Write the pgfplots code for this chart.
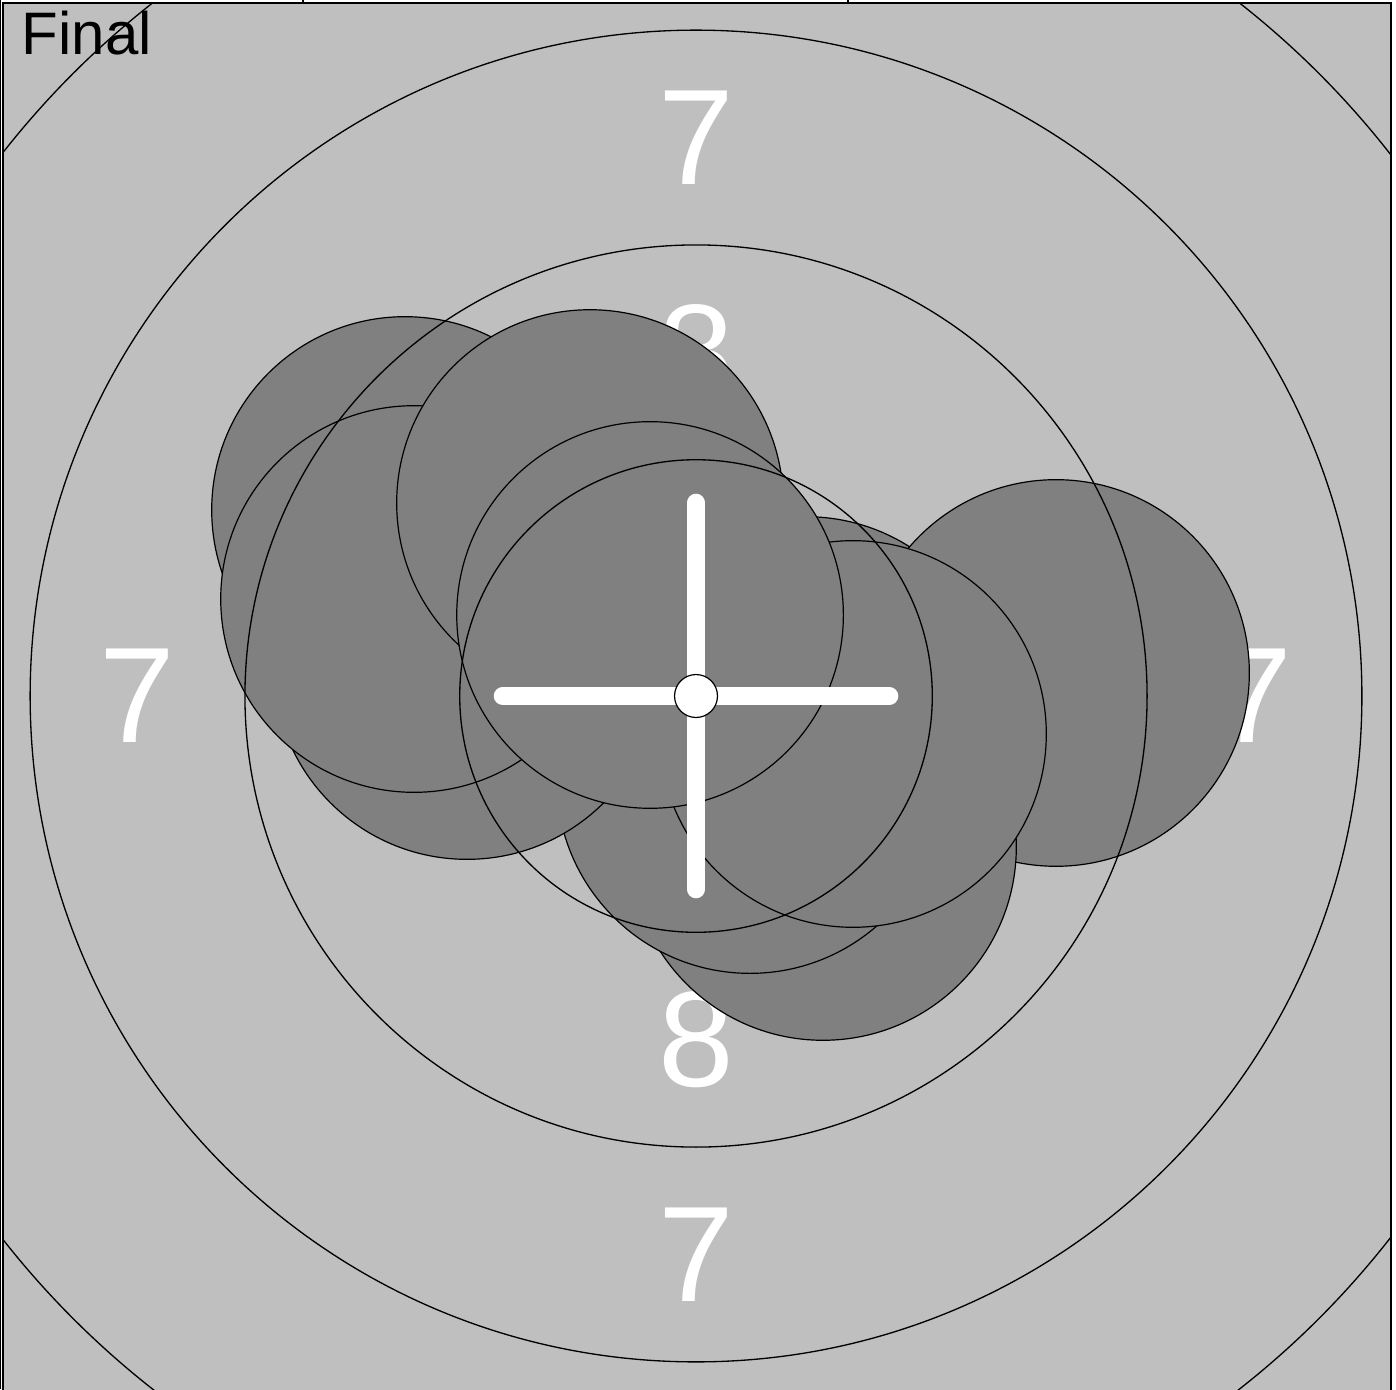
\documentclass[border=0pt]{standalone}
\usepackage{pgfplots}
\usepackage{pgfplotstable}
\pgfplotsset{compat=1.18}
\usepackage{fontspec}
\setmainfont{Liberation Sans}
\definecolor{tgtbg}{RGB}{191,191,191}
\definecolor{shotgray}{RGB}{128,128,128}

\pgfplotstableread{
x y
1.280 -0.163
4.190 0.268
1.478 -1.757
0.628 -0.978
1.827 -0.442
-2.665 0.349
-3.387 2.165
-3.282 1.129
-1.234 2.246
-0.535 0.943
}\shots

\pgfplotstableread{
x y l
0 6.5 7
0 -6.5 7
-6.5 0 7
6.5 0 7
0 4 8
0 -4 8
-4 0 8
4 0 8
}\ringlabels

\begin{document}
\begin{tikzpicture}
\begin{axis}[name=tgt, scale only axis, width=347pt, height=347pt,
  xmin=-8.066, xmax=8.089, ymin=-8.089, ymax=8.066,
  axis background/.style={fill=tgtbg},
  axis line style={line width=0.4pt},
  xtick={-4.574,1.769}, xticklabels={}, ytick=\empty,
  xtick pos=right, tick align=outside, major tick length=3pt,
  tick style={line width=0.4pt, black},
  clip marker paths=true]

\addplot[draw=none, mark=none, nodes near coords, point meta=explicit symbolic,
  nodes near coords style={font=\fontsize{34}{34}\selectfont, text=white, anchor=center, inner sep=0pt}]
  table[meta=l] {\ringlabels};

\addplot[only marks, mark=*, mark size=48.33pt,
  mark options={fill=shotgray, draw=black, line width=0.3pt}] table {\shots};

\addplot[black, only marks, mark=o, mark size=220.17pt, mark options={line width=0.33pt}] coordinates {(0,0)};
\addplot[black, only marks, mark=o, mark size=166.47pt, mark options={line width=0.33pt}] coordinates {(0,0)};
\addplot[black, only marks, mark=o, mark size=112.77pt, mark options={line width=0.33pt}] coordinates {(0,0)};
\addplot[black, only marks, mark=o, mark size=59.07pt, mark options={line width=0.33pt}] coordinates {(0,0)};

\addplot[white, line width=4.5pt, line cap=round] coordinates {(-2.25,0) (2.25,0)};
\addplot[white, line width=4.5pt, line cap=round] coordinates {(0,-2.25) (0,2.25)};

\addplot[only marks, mark=*, mark size=5.37pt,
  mark options={fill=white, draw=black, line width=0.3pt}] coordinates {(0,0)};
\end{axis}
\node[anchor=base west, inner sep=0pt, font=\fontsize{15}{15}\selectfont] at ([xshift=4.5pt,yshift=-13pt]tgt.north west) {Final};
\pgfresetboundingbox
\path[use as bounding box] ([xshift=-0.75pt,yshift=0.5pt]tgt.south west) rectangle ([xshift=1.25pt,yshift=0.75pt]tgt.north east);
\draw[line width=0.3pt] ([xshift=-0.6pt,yshift=0.5pt]tgt.south west) -- ([xshift=-0.6pt,yshift=0.75pt]tgt.north west);
\end{tikzpicture}
\end{document}
